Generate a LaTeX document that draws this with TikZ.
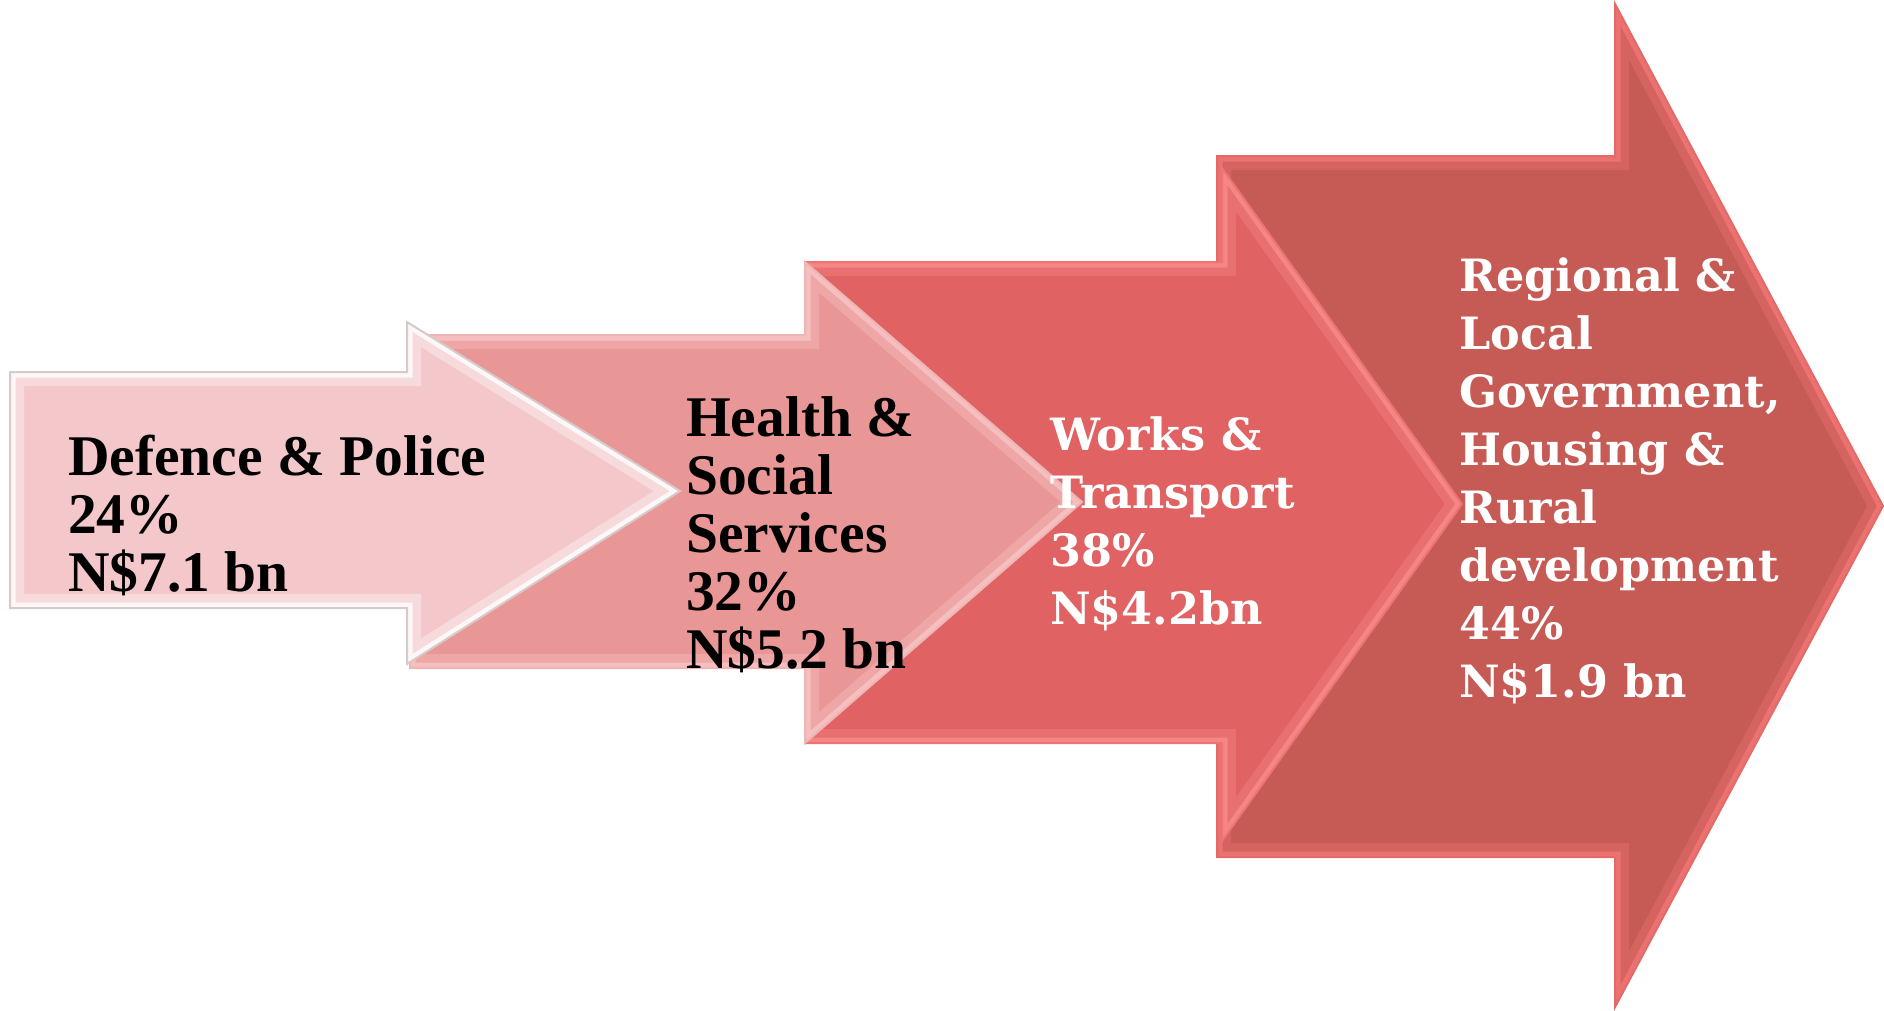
\documentclass[tikz,border=0pt]{standalone}
\usepackage{fontspec}
\newfontfamily\darkfont{Liberation Serif}
\newfontfamily\lightfont{DejaVu Serif}

\definecolor{fillA}{HTML}{F4C8CA}
\definecolor{glowA}{HTML}{FFFFFF}
\definecolor{edgeA}{HTML}{D8CACA}
\definecolor{fillB}{HTML}{E99796}
\definecolor{glowB}{HTML}{F8C6C6}
\definecolor{edgeB}{HTML}{EFB4B4}
\definecolor{fillC}{HTML}{E06262}
\definecolor{glowC}{HTML}{F88C8C}
\definecolor{edgeC}{HTML}{EE7474}
\definecolor{fillD}{HTML}{C65A55}
\definecolor{glowD}{HTML}{F27676}
\definecolor{edgeD}{HTML}{E46A68}

% One bevelled block arrow from the seven named corners #1a ... #1g
\newcommand\bevelarrow[4]{%
  \fill[#2] (#1a) -- (#1b) -- (#1c) -- (#1d) -- (#1e) -- (#1f) -- (#1g) -- cycle;
  \begin{scope}
    \clip (#1a) -- (#1b) -- (#1c) -- (#1d) -- (#1e) -- (#1f) -- (#1g) -- cycle;
    \draw[#3, line width=28pt, opacity=.35, line join=miter]
      (#1a) -- (#1b) -- (#1c) -- (#1d) -- (#1e) -- (#1f) -- (#1g) -- cycle;
    \draw[#3, line width=11pt, opacity=.8, line join=miter]
      (#1a) -- (#1b) -- (#1c) -- (#1d) -- (#1e) -- (#1f) -- (#1g) -- cycle;
  \end{scope}
  \draw[#4, line width=2pt, line join=miter]
    (#1a) -- (#1b) -- (#1c) -- (#1d) -- (#1e) -- (#1f) -- (#1g) -- cycle;
}

\tikzset{
  darklabel/.style={anchor=north west, inner sep=0pt, align=left, text=black,
    font=\darkfont\bfseries\fontsize{57.5}{58}\selectfont},
  lightlabel/.style={anchor=north west, inner sep=0pt, align=left, text=white,
    font=\lightfont\bfseries\fontsize{44.5}{58}\selectfont},
}

\begin{document}
\begin{tikzpicture}[x=1pt, y=-1pt]
  \useasboundingbox (0,0) rectangle (1884,1010);

  % corners of the four arrows
  \coordinate (Aa) at (10,372);   \coordinate (Ab) at (407,372);
  \coordinate (Ac) at (407,322);  \coordinate (Ad) at (680,491);
  \coordinate (Ae) at (407,664);  \coordinate (Af) at (407,608);
  \coordinate (Ag) at (10,608);

  \coordinate (Ba) at (410,335);  \coordinate (Bb) at (805,335);
  \coordinate (Bc) at (805,262);  \coordinate (Bd) at (1082,502);
  \coordinate (Be) at (805,743);  \coordinate (Bf) at (805,668);
  \coordinate (Bg) at (410,668);

  \coordinate (Ca) at (805,262);  \coordinate (Cb) at (1222,262);
  \coordinate (Cc) at (1222,168); \coordinate (Cd) at (1462,504);
  \coordinate (Ce) at (1222,841); \coordinate (Cf) at (1222,743);
  \coordinate (Cg) at (805,743);

  \coordinate (Da) at (1217,156); \coordinate (Db) at (1615,156);
  \coordinate (Dc) at (1615,4);   \coordinate (Dd) at (1883,506);
  \coordinate (De) at (1615,1007);\coordinate (Df) at (1615,857);
  \coordinate (Dg) at (1217,857);

  % back to front
  \bevelarrow{D}{fillD}{glowD}{edgeD}
  \bevelarrow{C}{fillC}{glowC}{edgeC}
  \bevelarrow{B}{fillB}{glowB}{edgeB}
  \bevelarrow{A}{fillA}{glowA}{edgeA}

  \node[darklabel] (defence) at (68,435)
    {Defence \& Police\\24\%\\N\$7.1 bn};
  \node[darklabel] (health) at (686,396)
    {Health \&\\Social\\Services\\32\%\\N\$5.2 bn};
  \node[lightlabel] (works) at (1050,416)
    {Works \&\\Transport\\38\%\\N\$4.2bn};
  \node[lightlabel] (regional) at (1459,257)
    {Regional \&\\Local\\Government,\\Housing \&\\Rural\\development\\44\%\\N\$1.9 bn};
\end{tikzpicture}
\end{document}
